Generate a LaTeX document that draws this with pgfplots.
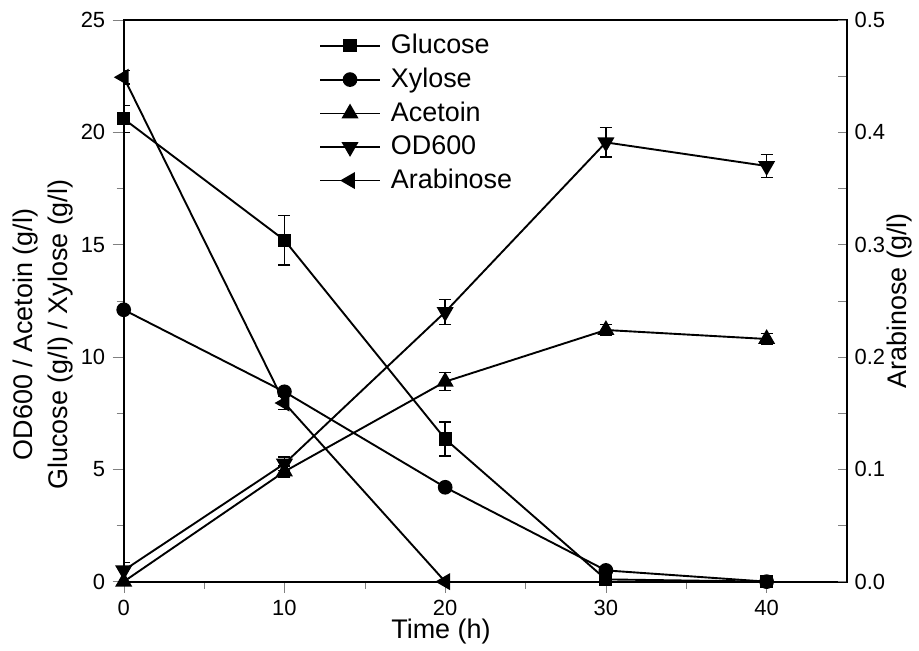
\documentclass[border=0pt]{standalone}
\usepackage{fontspec}
\setmainfont{Liberation Sans}
\usepackage{pgfplots}
\pgfplotsset{compat=1.18}
\begin{document}
\begin{tikzpicture}
\pgfplotsset{
  every axis/.append style={
    width=362.5pt, height=281.5pt, scale only axis,
    xmin=0, xmax=45, line width=0.9pt,
    /pgf/number format/assume math mode=true,
    tick label style={font=\fontsize{11}{13}\selectfont},
    label style={font=\fontsize{13.5}{17.5}\selectfont},
  },
  mystyle/.style={black, line width=0.95pt, mark size=3pt,
    error bars/y dir=both, error bars/y explicit,
    error bars/error bar style={line width=0.7pt},
    error bars/error mark options={rotate=90, mark size=3pt, line width=0.7pt}},
}
\begin{axis}[
  name=ax,
  ymin=0, ymax=25,
  xtick={0,10,20,30,40}, minor x tick num=1,
  ytick={0,5,10,15,20,25}, minor y tick num=1,
  xtick pos=bottom, ytick pos=left,
  tick align=outside,
  major tick length=5.5pt, minor tick length=3.5pt,
  xlabel={Time (h)},
  ylabel={\begin{tabular}{@{}c@{}}OD600 / Acetoin (g/l)\\Glucose (g/l) / Xylose (g/l)\end{tabular}},
  xlabel style={at={(axis description cs:0.4386,-0.089)}, anchor=center},
  ylabel style={at={(axis description cs:-0.111,0.44)}, anchor=center, rotate=0},
  legend style={draw=none, fill=none, at={(0.2607,0.99)}, anchor=north west,
    font=\fontsize{13.5}{16}\selectfont, row sep=1.7pt,
    /tikz/every odd column/.append style={column sep=3pt}},
  legend cell align=left,
  legend image code/.code={\draw[mark repeat=2,mark phase=2,#1] plot coordinates {(0pt,0pt) (15pt,0pt) (30pt,0pt)};},
  yticklabel style={/pgf/number format/fixed},
]
\addplot[mystyle, mark=square*, mark size=2.8pt] coordinates {
  (0,20.6) +- (0,0.6)
  (10,15.2) +- (0,1.1)
  (20,6.35) +- (0,0.75)
  (30,0.1) +- (0,0.05)
  (40,0.0) +- (0,0)
};
\addlegendentry{Glucose}
\addplot[mystyle, mark=*, mark size=3.2pt] coordinates {
  (0,12.1) +- (0,0.15)
  (10,8.45) +- (0,0.15)
  (20,4.2) +- (0,0.1)
  (30,0.5) +- (0,0.1)
  (40,0.0) +- (0,0)
};
\addlegendentry{Xylose}
\addplot[mystyle, mark=triangle*, mark size=4pt] coordinates {
  (0,0.0) +- (0,0)
  (10,4.9) +- (0,0.25)
  (20,8.9) +- (0,0.4)
  (30,11.2) +- (0,0.25)
  (40,10.8) +- (0,0.25)
};
\addlegendentry{Acetoin}
\addplot[mystyle, mark=triangle*, mark size=4pt, mark options={rotate=180}] coordinates {
  (0,0.5) +- (0,0.35)
  (10,5.25) +- (0,0.3)
  (20,12.0) +- (0,0.55)
  (30,19.55) +- (0,0.65)
  (40,18.5) +- (0,0.5)
};
\addlegendentry{OD600}
\addlegendimage{black, line width=0.95pt, mark size=4pt, mark=triangle*, mark options={rotate=90}}
\addlegendentry{Arabinose}
\end{axis}
\begin{axis}[
  ymin=0, ymax=0.5,
  axis x line=none,
  axis y line*=right,
  ytick={0,0.1,0.2,0.3,0.4,0.5}, minor y tick num=1,
  tick align=inside,
  major tick length=4.5pt, minor tick length=4.5pt,
  yticklabel style={/pgf/number format/fixed, /pgf/number format/fixed zerofill, /pgf/number format/precision=1},
  ylabel={Arabinose (g/l)},
  ylabel style={at={(axis description cs:1.073,0.5)}, anchor=center, rotate=0},
]
\addplot[mystyle, mark=triangle*, mark size=4pt, mark options={rotate=90}] coordinates {
  (0,0.449) +- (0,0.006)
  (10,0.159) +- (0,0.006)
  (20,0.0) +- (0,0)
};
\end{axis}
\path ([shift={(-62pt,-33pt)}]ax.south west) rectangle ([shift={(35pt,10pt)}]ax.north east);
\end{tikzpicture}
\end{document}
